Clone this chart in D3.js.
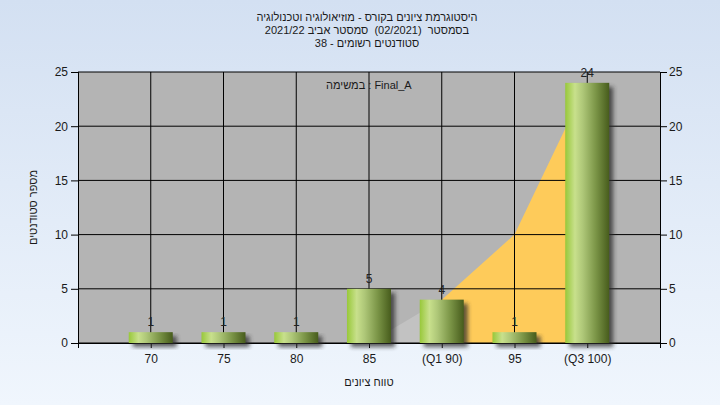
<!DOCTYPE html>
<html><head><meta charset="utf-8">
<script src="https://cdn.jsdelivr.net/npm/d3@7"></script>
<style>
html,body{margin:0;padding:0;}
svg{display:block;font-family:"Liberation Sans","DejaVu Sans",Arial,sans-serif;}
</style></head>
<body>
<svg id="chart" width="720" height="405"></svg>
<script>
const categories = ["70","75","80","85","(Q1 90)","95","(Q3 100)"];
const counts = [1,1,1,5,4,1,24];
const curveValues = [0,0,0,0,4,10,24];
const q1Index = 4, q3Index = 6;
const yTicks = [0,5,10,15,20,25];
const titleLines = ["היסטוגרמת ציונים בקורס - מוזיאולוגיה וטכנולוגיה","בסמסטר  (02/2021)  סמסטר אביב 2021/22","סטודנטים רשומים - 38"];
const legendText = "במשימה : Final_A";
const yTitle = "מספר סטודנטים";
const xTitle = "טווח ציונים";

const svg = d3.select("#chart");
const W=720,H=405;
const L=78,R=660,T=72,B=343;
const defs = svg.append("defs");
const bg = defs.append("linearGradient").attr("id","bg").attr("x1",0).attr("y1",0).attr("x2",0).attr("y2",1);
bg.append("stop").attr("offset","0%").attr("stop-color","#d3e0f2");
bg.append("stop").attr("offset","100%").attr("stop-color","#f0f6fd");
const bar = defs.append("linearGradient").attr("id","bar").attr("x1",0).attr("y1",0).attr("x2",1).attr("y2",0);
[["0%","#98c83a"],["22%","#c8e08c"],["40%","#aec778"],["70%","#7a9446"],["100%","#475c1c"]]
  .forEach(s=>bar.append("stop").attr("offset",s[0]).attr("stop-color",s[1]));
const f = defs.append("filter").attr("id","blur").attr("x","-20%").attr("y","-20%").attr("width","140%").attr("height","140%");
f.append("feGaussianBlur").attr("stdDeviation",2);

svg.append("rect").attr("width",W).attr("height",H).attr("fill","url(#bg)");

const x = d3.scalePoint().domain(categories).range([L,R]).padding(1);
const y = d3.scaleLinear().domain([0,25]).range([B,T]);

svg.append("rect").attr("x",L).attr("y",T).attr("width",R-L).attr("height",B-T).attr("fill","#b4b4b4");

const pts = categories.map((c,i)=>({c,v:curveValues[i]}));
const area = d3.area().x(d=>x(d.c)).y0(y(0)).y1(d=>y(d.v));
svg.append("path").datum(pts.slice(0,q1Index+1)).attr("d",area).attr("fill","#c2c2c2");
svg.append("path").datum(pts.slice(q1Index,q3Index+1)).attr("d",area).attr("fill","#fecb5a");

// grid
svg.append("g").selectAll("line").data(yTicks).join("line")
  .attr("x1",L).attr("x2",R).attr("y1",d=>y(d)).attr("y2",d=>y(d)).attr("stroke","#000");
svg.append("g").selectAll("line").data(categories).join("line")
  .attr("x1",d=>x(d)).attr("x2",d=>x(d)).attr("y1",T).attr("y2",B).attr("stroke","#000");

// axes
const ax = svg.append("g").attr("transform",`translate(0,${B})`)
  .call(d3.axisBottom(x).tickSize(5).tickPadding(6));
const ayl = svg.append("g").attr("transform",`translate(${L},0)`)
  .call(d3.axisLeft(y).tickValues(yTicks).tickSize(7).tickPadding(3).tickSizeOuter(0));
const ayr = svg.append("g").attr("transform",`translate(${R},0)`)
  .call(d3.axisRight(y).tickValues(yTicks).tickSize(7).tickPadding(2).tickSizeOuter(0));
[ax,ayl,ayr].forEach(g=>{
  g.selectAll("text").attr("font-size",12).attr("fill","#1a1a1a").attr("font-family","Liberation Sans, DejaVu Sans, Arial");
  g.selectAll("line,path").attr("stroke","#000");
});
ax.select(".domain").remove();
svg.append("line").attr("x1",L).attr("x2",R).attr("y1",B+0.5).attr("y2",B+0.5).attr("stroke","#000");
svg.append("line").attr("x1",L+0.5).attr("x2",L+0.5).attr("y1",T).attr("y2",B+5).attr("stroke","#000");
svg.append("line").attr("x1",R+0.5).attr("x2",R+0.5).attr("y1",T).attr("y2",B+5).attr("stroke","#000");

// bars
const bw = 44;
const data = categories.map((c,i)=>({c,v:counts[i]}));
svg.append("g").selectAll("rect").data(data).join("rect")
  .attr("x",d=>x(d.c)-bw/2+4).attr("y",d=>y(d.v)+4).attr("width",bw).attr("height",d=>B-y(d.v))
  .attr("fill","#2a2a2a").attr("opacity",0.75).attr("filter","url(#blur)");
svg.append("g").selectAll("rect").data(data).join("rect")
  .attr("x",d=>x(d.c)-bw/2).attr("y",d=>y(d.v)).attr("width",bw).attr("height",d=>B-y(d.v))
  .attr("fill","url(#bar)");
svg.append("g").selectAll("text").data(data).join("text")
  .attr("x",d=>x(d.c)).attr("y",d=>y(d.v)-6).attr("text-anchor","middle")
  .attr("font-size",12).attr("fill","#222").text(d=>d.v);

// titles
svg.append("g").selectAll("text").data(titleLines).join("text")
  .attr("x",367).attr("y",(d,i)=>21+i*13).attr("text-anchor","middle")
  .attr("xml:space","preserve").style("white-space","pre")
  .attr("direction","rtl").style("direction","rtl")
  .attr("font-size",11).attr("fill","#1a1a1a").text(d=>d);

svg.append("text").attr("x",326).attr("y",89).attr("font-size",11).attr("fill","#1a1a1a")
  .attr("direction","ltr").text(legendText);

svg.append("text").attr("transform",`translate(37,${(T+B)/2}) rotate(-90)`)
  .attr("text-anchor","middle").attr("font-size",11).attr("fill","#1a1a1a")
  .style("direction","rtl").text(yTitle);
svg.append("text").attr("x",(L+R)/2).attr("y",386)
  .attr("text-anchor","middle").attr("font-size",11).attr("fill","#1a1a1a")
  .style("direction","rtl").text(xTitle);
</script>
</body></html>
